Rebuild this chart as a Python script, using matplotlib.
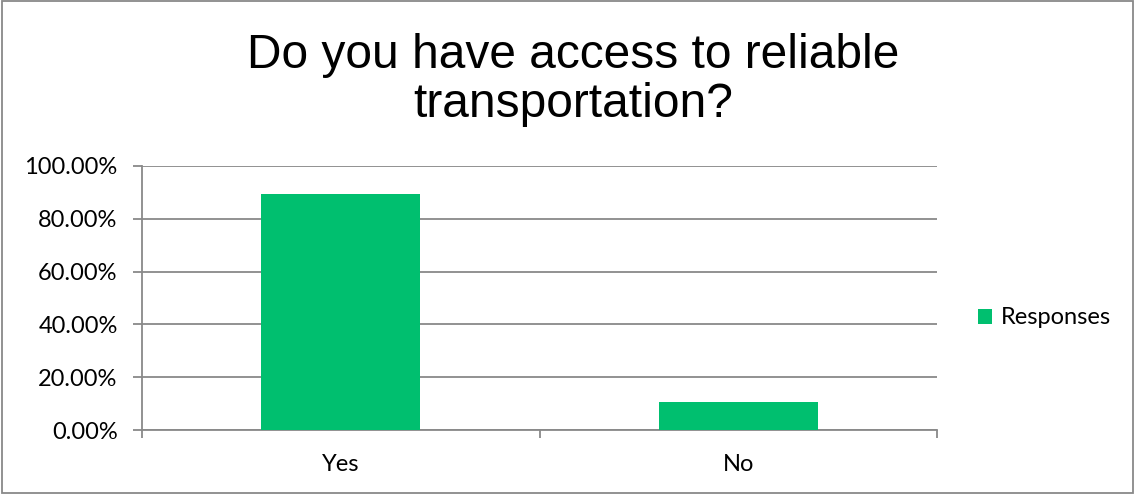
import matplotlib
matplotlib.use("Agg")
import matplotlib.pyplot as plt
from matplotlib.patches import Rectangle
from matplotlib.ticker import FuncFormatter, FixedLocator

categories = ["Yes", "No"]
values = [89.36, 10.64]
series_name = "Responses"
title = "Do you have access to reliable\ntransportation?"
yticks = [0, 20, 40, 60, 80, 100]

green = "#00BF6F"
grid_c = "#898989"
fs = 17

fig = plt.figure(figsize=(11.35, 4.94), dpi=100)
ax = fig.add_axes([142/1135, 64/494, 795/1135, 264/494])

x = list(range(len(categories)))
ax.bar(x, values, width=0.4, color=green, label=series_name, zorder=3)
ax.set_xlim(-0.5, len(categories) - 0.5)
ax.set_ylim(0, 100)
ax.yaxis.set_major_locator(FixedLocator(yticks))
ax.yaxis.set_major_formatter(FuncFormatter(lambda v, p: f"{v:.2f}%"))
ax.grid(axis="y", color=grid_c, linewidth=1.3, zorder=0)

ax.set_xticks([i - 0.5 for i in range(len(categories) + 1)])
ax.set_xticklabels([])
ax.set_xticks(x, minor=True)
ax.set_xticklabels(categories, minor=True)
ax.tick_params(axis="x", which="minor", length=0, pad=17)
ax.tick_params(axis="x", which="major", direction="out", length=6, color=grid_c, width=1.3)
ax.tick_params(axis="y", direction="out", length=6.5, color=grid_c, width=1.3, pad=11)

for s in ["top", "right"]:
    ax.spines[s].set_visible(False)
for s in ["left", "bottom"]:
    ax.spines[s].set_color(grid_c)
    ax.spines[s].set_linewidth(1.3)

for lab in ax.get_yticklabels() + ax.get_xticklabels(minor=True):
    lab.set_fontfamily("Lato")
    lab.set_fontsize(fs)
    lab.set_color("#000000")

fig.text(573/1135, 1 - 80/494, title, ha="center", va="center", fontsize=34.5,
         fontfamily="Liberation Sans", linespacing=1.12)

leg = fig.legend(loc="center left", bbox_to_anchor=(978/1135, 1 - 318/494),
                 frameon=False, prop={"family": "Lato", "size": fs},
                 handlelength=0.6, handleheight=0.6, handletextpad=0.35,
                 borderpad=0, borderaxespad=0)

fig.patches.append(Rectangle((0.002, 0.002), 0.996, 0.996, transform=fig.transFigure,
                             fill=False, edgecolor="#898989", linewidth=1.3))

fig.savefig("out.png", dpi=100)
